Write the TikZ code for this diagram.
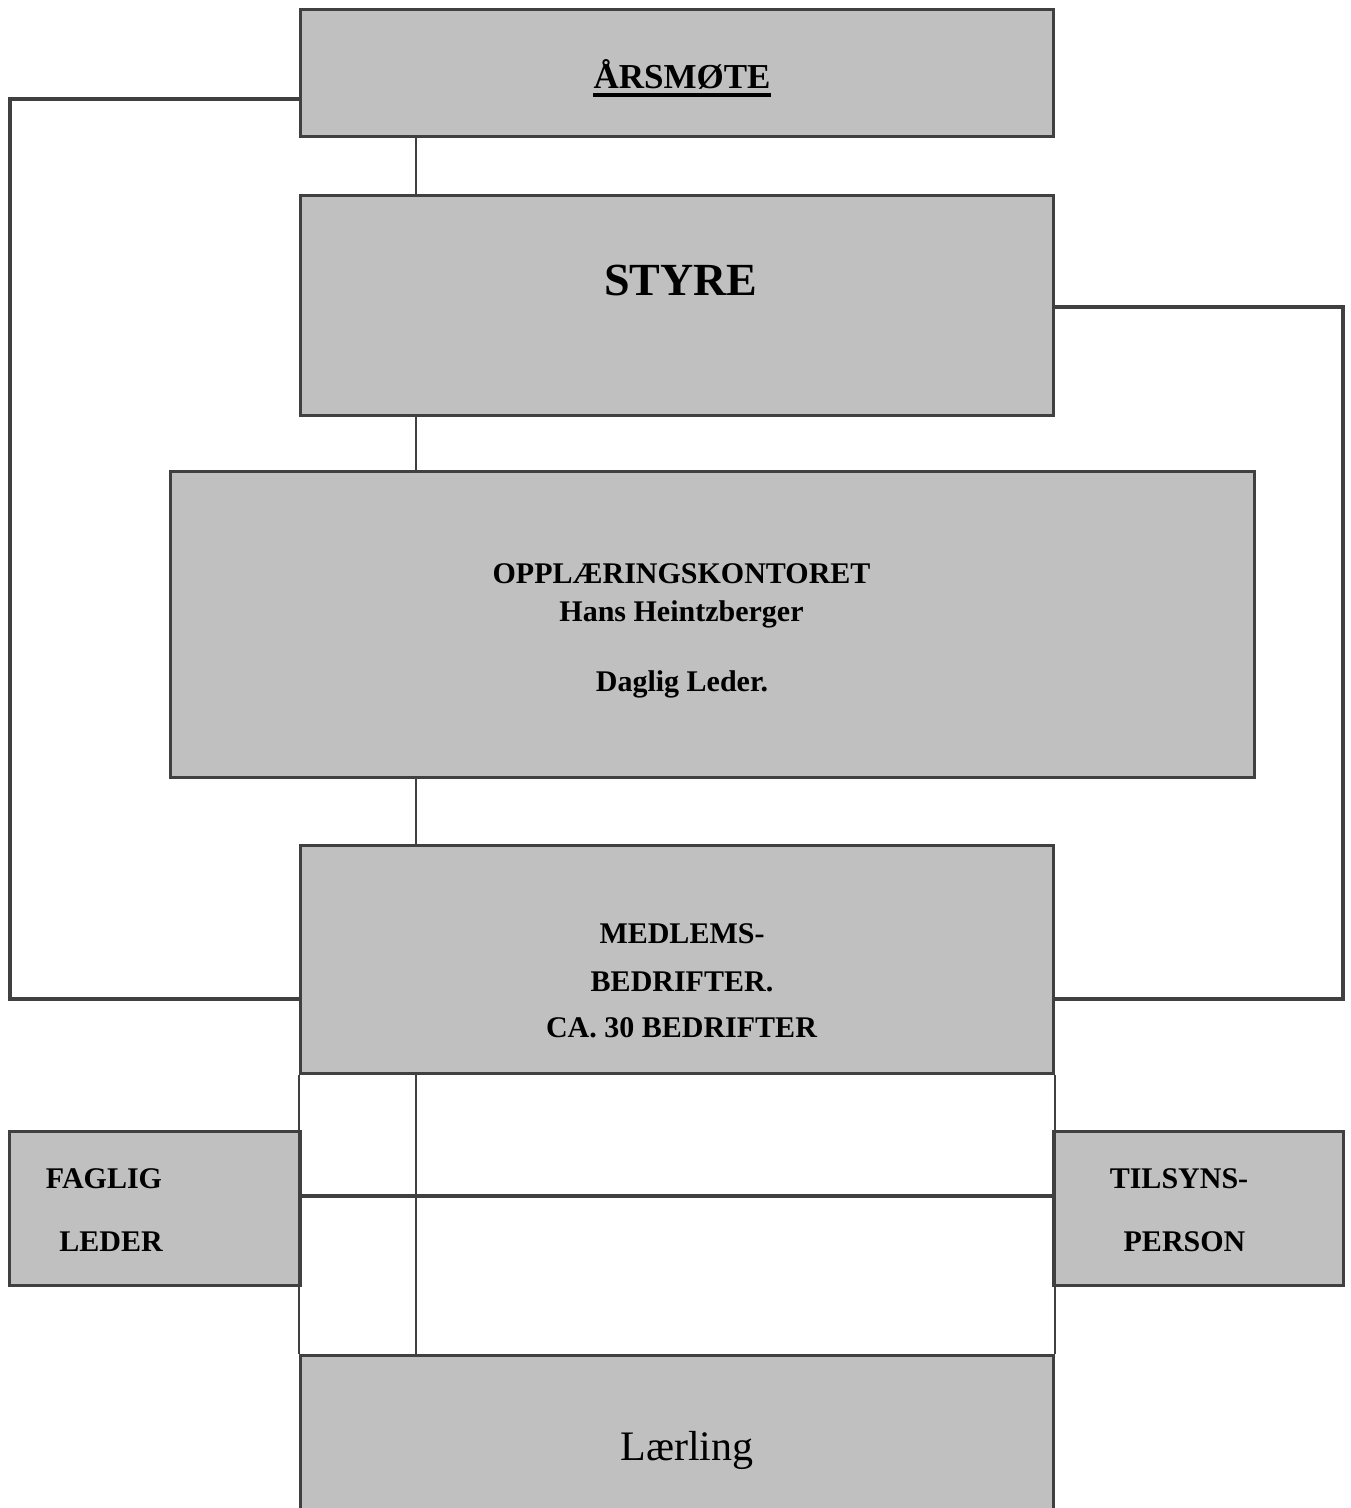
\documentclass[tikz,border=0pt]{standalone}
\usepackage{fontspec}
\setmainfont{Liberation Serif}
\definecolor{boxfill}{HTML}{C0C0C0}
\definecolor{boxline}{HTML}{404040}
\begin{document}
\begin{tikzpicture}[x=1pt,y=-1pt,
  orgbox/.style={draw=boxline,fill=boxfill,line width=3pt,inner sep=0pt,anchor=center},
  txt/.style={inner sep=0pt,anchor=base,text=black},
  bigtxt/.style={txt,font=\fontsize{30}{36}\selectfont\bfseries},
  thickline/.style={draw=boxline,line width=4pt},
  thinline/.style={draw=boxline,line width=2pt},
  midline/.style={draw=boxline,line width=3.5pt}]
\useasboundingbox (0,0) rectangle (1351,1508);
\clip (0,0) rectangle (1351,1508);
\fill[white] (0,0) rectangle (1351,1508);

% coordinates for connector routing
\coordinate (sx) at (416,0);
\coordinate (lt) at (10,99);
\coordinate (lb) at (10,999);
\coordinate (rt) at (1343,307);
\coordinate (rb) at (1343,999);
\coordinate (hy) at (0,1196);

% boxes (empty, text placed separately)
\node[orgbox,minimum width=753pt,minimum height=127pt] (ars) at (676.5,72.5) {};
\node[orgbox,minimum width=753pt,minimum height=220pt] (sty) at (676.5,305) {};
\node[orgbox,minimum width=1084pt,minimum height=306pt] (opp) at (712,624) {};
\node[orgbox,minimum width=753pt,minimum height=228pt] (med) at (676.5,959) {};
\node[orgbox,minimum width=291pt,minimum height=154pt] (fag) at (154.5,1208) {};
\node[orgbox,minimum width=290pt,minimum height=154pt] (til) at (1198,1208) {};
\node[orgbox,minimum width=753pt,minimum height=175pt] (lae) at (676.5,1442.5) {};

% connectors
\draw[thinline] (ars.south -| sx) -- (sty.north -| sx);
\draw[thinline] (sty.south -| sx) -- (opp.north -| sx);
\draw[thinline] (opp.south -| sx) -- (med.north -| sx);
\draw[thinline] (med.south -| sx) -- (lae.north -| sx);
\draw[thinline] (med.south west) -- (lae.north west);
\draw[thinline] (med.south east) -- (lae.north east);
\draw[midline] (fag.east |- hy) -- (til.west |- hy);
\draw[thickline] (ars.west |- lt) -- (lt) -- (lb) -- (med.west |- lb);
\draw[thickline] (sty.east |- rt) -- (rt) -- (rb) -- (med.east |- rb);

% texts
\node[txt,font=\fontsize{35}{42}\selectfont\bfseries] (arstext) at (682,88) {ÅRSMØTE};
\draw[line width=3.5pt,black] ([yshift=-7pt]arstext.base west) -- ([yshift=-7pt]arstext.base east);
\node[txt,font=\fontsize{46}{55}\selectfont\bfseries] (stytext) at (681,295) {STYRE};
\node[bigtxt] (opp1) at (681.5,583) {OPPLÆRINGSKONTORET};
\node[bigtxt] (opp2) at (681.5,621) {Hans Heintzberger};
\node[bigtxt] (opp3) at (682,691) {Daglig Leder.};
\node[bigtxt] (med1) at (682,943) {MEDLEMS-};
\node[bigtxt] (med2) at (682,991) {BEDRIFTER.};
\node[bigtxt] (med3) at (681.5,1037) {CA. 30 BEDRIFTER};
\node[bigtxt] (fag1) at (104,1188) {FAGLIG};
\node[bigtxt] (fag2) at (111,1251) {LEDER};
\node[bigtxt] (til1) at (1179,1188) {TILSYNS-};
\node[bigtxt] (til2) at (1184.5,1251) {PERSON};
\node[txt,font=\fontsize{42}{50}\selectfont] (laetext) at (687,1460) {Lærling};
\end{tikzpicture}
\end{document}
